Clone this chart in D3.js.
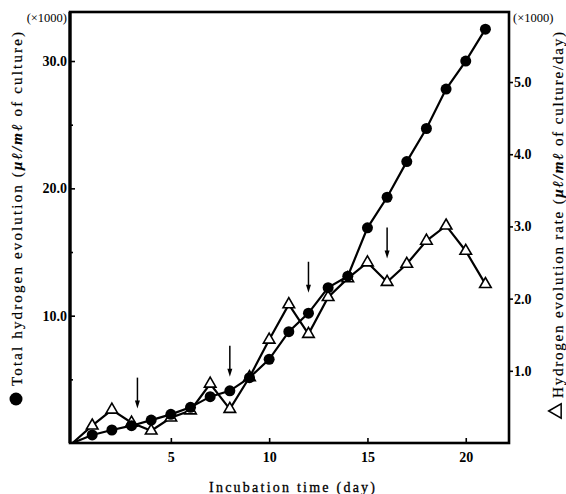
<!DOCTYPE html>
<html>
<head>
<meta charset="utf-8">
<script src="https://cdn.jsdelivr.net/npm/d3@7"></script>
<style>
  body { margin: 0; background: #fff; }
  text { font-family: "Liberation Serif", "Times New Roman", serif; fill: #000; }
</style>
</head>
<body>
<div id="chart"></div>
<script>
// values (x1000)
const days = [0, 1, 2, 3, 4, 5, 6, 7, 8, 9, 10, 11, 12, 13, 14, 15, 16, 17, 18, 19, 20, 21];
const totalH2 = [0, 0.63, 1.02, 1.36, 1.8, 2.25, 2.8, 3.64, 4.1, 5.13, 6.57, 8.74, 10.2, 12.2, 13.1, 16.9, 19.3, 22.1, 24.7, 27.8, 30.0, 32.5];
const rateH2 = [0, 0.24, 0.46, 0.28, 0.17, 0.35, 0.45, 0.82, 0.47, 0.91, 1.43, 1.92, 1.51, 2.02, 2.28, 2.50, 2.23, 2.48, 2.80, 3.01, 2.66, 2.20];
const arrowDays = [3.3, 8, 12, 16];
const arrowTips = [2.7, 5.2, 11.8, 14.5]; // left axis units
const xTicks = [5, 10, 15, 20];
const leftTicks = [10, 20, 30];
const leftMinor = [5, 15, 25];
const rightTicks = [1, 2, 3, 4, 5];

const W = 566, H = 494;
const box = { left: 70, right: 509, top: 12, bottom: 443 };

const x = d3.scaleLinear().domain([-0.13, 22.2]).range([box.left, box.right]);
const yL = d3.scaleLinear().domain([0, 33.85]).range([box.bottom, box.top]);
const yR = d3.scaleLinear().domain([0, 5.97]).range([box.bottom, box.top]);

const svg = d3.select('#chart').append('svg')
  .attr('width', W).attr('height', H);

const fmt = d3.format('.1f');

function styleAxis(g) {
  g.select('.domain').remove();
  g.selectAll('line').attr('stroke', '#000').attr('stroke-width', 1.6);
  g.selectAll('text')
    .attr('font-family', '"Liberation Serif", serif')
    .attr('font-weight', 'bold')
    .attr('font-size', 14);
}

// left axis, ticks inward
svg.append('g')
  .attr('transform', `translate(${box.left},0)`)
  .call(d3.axisLeft(yL).tickValues(leftTicks).tickFormat(fmt).tickSize(-5).tickPadding(3))
  .call(styleAxis);
svg.append('g')
  .attr('transform', `translate(${box.left},0)`)
  .call(d3.axisLeft(yL).tickValues(leftMinor).tickFormat('').tickSize(-3))
  .call(styleAxis);

// right axis, ticks outward
svg.append('g')
  .attr('transform', `translate(${box.right},0)`)
  .call(d3.axisRight(yR).tickValues(rightTicks).tickFormat(fmt).tickSize(4).tickPadding(1))
  .call(styleAxis);

// bottom axis, ticks inward
svg.append('g')
  .attr('transform', `translate(0,${box.bottom})`)
  .call(d3.axisBottom(x).tickValues(xTicks).tickFormat(d3.format('d')).tickSize(-5).tickPadding(9))
  .call(styleAxis);

// frame
svg.append('rect')
  .attr('x', box.left).attr('y', box.top)
  .attr('width', box.right - box.left).attr('height', box.bottom - box.top)
  .attr('fill', 'none').attr('stroke', '#000').attr('stroke-width', 2.6);
svg.append('line')
  .attr('x1', box.left).attr('x2', box.left).attr('y1', box.top).attr('y2', box.bottom)
  .attr('stroke', '#000').attr('stroke-width', 3.2);

// rate series (triangles), drawn first
const rateData = days.map((d, i) => ({ d, v: rateH2[i] }));
svg.append('path')
  .datum(rateData)
  .attr('fill', 'none').attr('stroke', '#000').attr('stroke-width', 2.2)
  .attr('d', d3.line().x(p => x(p.d)).y(p => yR(p.v)));
svg.append('g')
  .selectAll('path').data(rateData.slice(1))
  .enter().append('path')
  .attr('d', d3.symbol(d3.symbolTriangle).size(58))
  .attr('transform', p => `translate(${x(p.d)},${yR(p.v)})`)
  .attr('fill', '#fff').attr('stroke', '#000').attr('stroke-width', 1.6);

// total series (filled circles)
const totalData = days.map((d, i) => ({ d, v: totalH2[i] }));
svg.append('path')
  .datum(totalData)
  .attr('fill', 'none').attr('stroke', '#000').attr('stroke-width', 2.2)
  .attr('d', d3.line().x(p => x(p.d)).y(p => yL(p.v)));
svg.append('g')
  .selectAll('circle').data(totalData.slice(1))
  .enter().append('circle')
  .attr('cx', p => x(p.d)).attr('cy', p => yL(p.v))
  .attr('r', 5.5).attr('fill', '#000');

// arrows
const arrows = svg.append('g');
arrowDays.forEach((d, i) => {
  const ax = x(d), tip = yL(arrowTips[i]);
  arrows.append('line')
    .attr('x1', ax).attr('x2', ax).attr('y1', tip - 31).attr('y2', tip - 6)
    .attr('stroke', '#000').attr('stroke-width', 1.5);
  arrows.append('path')
    .attr('d', `M${ax - 2.5},${tip - 8}L${ax + 2.5},${tip - 8}L${ax},${tip}Z`)
    .attr('fill', '#000');
});

// (x1000) labels
svg.append('text').attr('x', 67).attr('y', 22).attr('text-anchor', 'end')
  .attr('font-size', 12.5).text('(×1000)');
svg.append('text').attr('x', 513).attr('y', 22)
  .attr('font-size', 12.5).text('(×1000)');

// x title
svg.append('text').attr('x', 292).attr('y', 492).attr('text-anchor', 'middle')
  .attr('font-size', 14).attr('stroke', '#000').attr('stroke-width', 0.3)
  .attr('textLength', 166).text('Incubation time (day)');

// left title
svg.append('circle').attr('cx', 16).attr('cy', 399).attr('r', 6.5).attr('fill', '#000');
const lt = svg.append('text')
  .attr('transform', 'translate(22,386) rotate(-90)')
  .attr('font-size', 15).attr('stroke', '#000').attr('stroke-width', 0.2)
  .attr('textLength', 354).attr('lengthAdjust', 'spacing');
lt.append('tspan').text('Total hydrogen evolution (');
lt.append('tspan').attr('font-weight', 'bold').attr('font-style', 'italic').text('μℓ/mℓ');
lt.append('tspan').text(' of culture)');

// right title
svg.append('path')
  .attr('d', d3.symbol(d3.symbolTriangle).size(90))
  .attr('transform', 'translate(557,411) rotate(-90)')
  .attr('fill', '#fff').attr('stroke', '#000').attr('stroke-width', 1.5);
const rt = svg.append('text')
  .attr('transform', 'translate(563,398) rotate(-90)')
  .attr('font-size', 15).attr('stroke', '#000').attr('stroke-width', 0.2)
  .attr('textLength', 366).attr('lengthAdjust', 'spacing');
rt.append('tspan').text('Hydrogen evolution rate (');
rt.append('tspan').attr('font-weight', 'bold').attr('font-style', 'italic').text('μℓ/mℓ');
rt.append('tspan').text(' of culture/day)');
</script>
</body>
</html>
